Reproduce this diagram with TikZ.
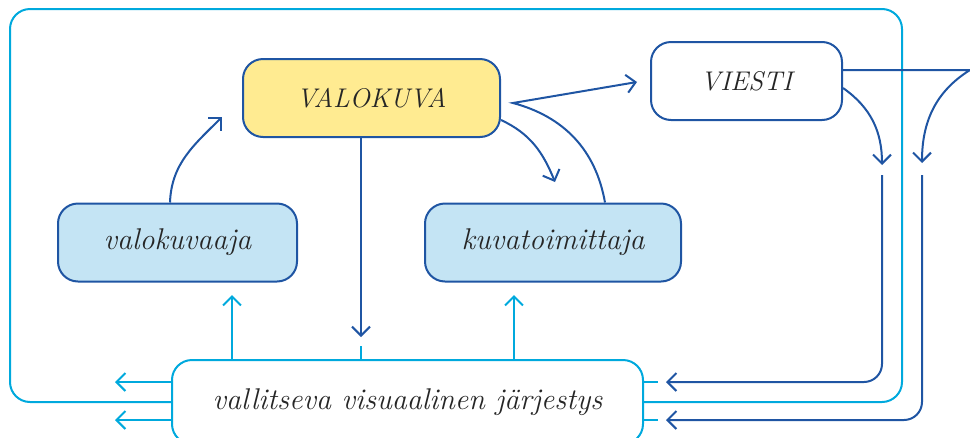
\documentclass[tikz,border=0pt]{standalone}
\usepackage{xcolor}
\usepackage{tikz}
\usetikzlibrary{arrows.meta}
\definecolor{tumma}{HTML}{1F55A3}
\definecolor{syaani}{HTML}{00A9DD}
\definecolor{keltainen}{HTML}{FFEB91}
\definecolor{vaalea}{HTML}{C4E4F4}
\tikzset{
  laatikko/.style={draw=tumma,line width=2pt,rounded corners=20pt,minimum height=78pt,
    inner sep=0pt,text=black!85,font=\fontsize{30}{34}\selectfont\itshape},
  isot/.style={font=\fontsize{27}{31}\selectfont\itshape},
  nuoli/.style={draw=tumma,line width=2pt,-{Straight Barb[length=9pt,width=18pt]}},
  viiva/.style={draw=syaani,line width=2pt},
  syaaninuoli/.style={viiva,-{Straight Barb[length=9pt,width=18pt]}}
}

\begin{document}
\begin{tikzpicture}[x=1pt,y=-1pt]
\useasboundingbox (0,0) rectangle (970,437);
\node (valokuva) at (371.5,98) [laatikko,isot,fill=keltainen,minimum width=257pt] {VALOKUVA};
\node (viesti) at (746.5,81) [laatikko,isot,fill=white,minimum width=191pt] {VIESTI};
\node (kuvaaja) at (177.5,242.5) [laatikko,fill=vaalea,minimum width=239pt] {valokuvaaja};
\node (toimittaja) at (553,242.5) [laatikko,fill=vaalea,minimum width=256pt] {kuvatoimittaja};
\node (jarjestys) at (407.5,402) [laatikko,draw=syaani,fill=white,minimum width=471pt,minimum height=84pt] {vallitseva visuaalinen järjestys};
\coordinate (liitos) at (513,103);
\coordinate (p1) at (222,117);
\coordinate (p2) at (555,182);
\coordinate (p3) at (637,82);
\coordinate (p4) at (361,337);
\coordinate (p5) at (361,346);
\coordinate (p6) at (882,165);
\coordinate (p7) at (922,163);
\coordinate (k1) at (882,175);
\coordinate (k2) at (922,175);
\coordinate (k3) at (970,70);
\coordinate (p8) at (666,382);
\coordinate (p9) at (666,420);
\coordinate (v1) at (115,382);
\coordinate (v2) at (115,420);
\coordinate (y1) at (232,295);
\coordinate (y2) at (514,295);
\draw[viiva,rounded corners=20pt] (jarjestys.west) -| (10,9) -| (902,402) -- (jarjestys.east);
\draw[nuoli] (kuvaaja.north -| 170,0) to[out=88,in=225] (p1);
\draw[nuoli] (valokuva.south -| p4) -- (p4);
\draw[viiva] (p5) -- (jarjestys.north -| p5);
\draw[nuoli] (valokuva.east |- 0,120) to[out=-25,in=112] (p2);
\draw[nuoli] (toimittaja.north -| 605,0) to[out=100,in=-15] (liitos) -- (p3);
\draw[nuoli] (viesti.east |- 0,88) to[out=-35,in=90] (p6);
\draw[nuoli] (viesti.east |- 0,70) -- (k3) to[out=212,in=90] (p7);
\draw[nuoli,rounded corners=18pt] (k1) |- (p8);
\draw[nuoli,rounded corners=18pt] (k2) |- (p9);
\draw[viiva] (jarjestys.east |- 0,382) -- +(14,0);
\draw[viiva] (jarjestys.east |- 0,420) -- +(14,0);
\draw[syaaninuoli] (jarjestys.west |- 0,382) -- (v1);
\draw[syaaninuoli] (jarjestys.west |- 0,420) -- (v2);
\draw[syaaninuoli] (jarjestys.north -| y1) -- (y1);
\draw[syaaninuoli] (jarjestys.north -| y2) -- (y2);
\end{tikzpicture}
\end{document}
